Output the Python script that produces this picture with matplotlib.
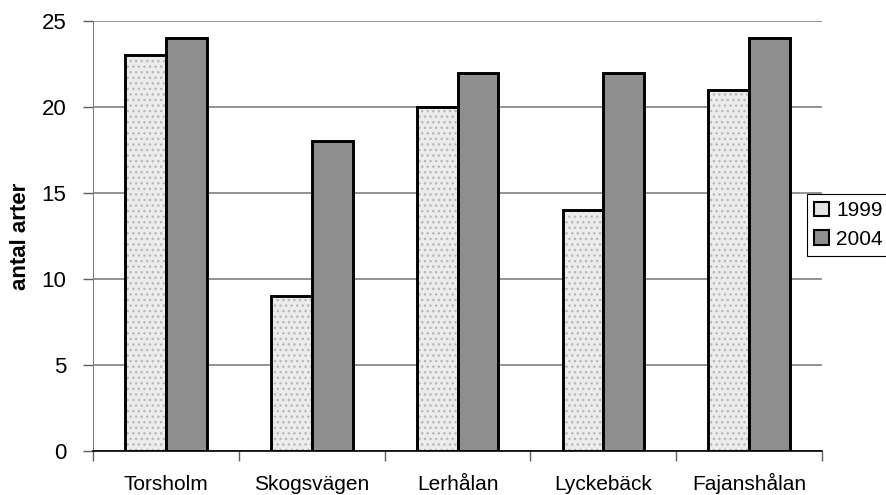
import numpy as np
import matplotlib.pyplot as plt

plt.rcParams['font.family'] = ['Liberation Sans', 'DejaVu Sans']

sites = ['Torsholm', 'Skogsvägen', 'Lerhålan', 'Lyckebäck', 'Fajanshålan']
arter_1999 = [23, 9, 20, 14, 21]
arter_2004 = [24, 18, 22, 22, 24]

fig = plt.figure(figsize=(8.87, 4.95), dpi=100)
ax = fig.add_axes([0.1048, 0.0889, 0.822, 0.8687])

x = np.arange(len(sites))
w = 0.28
# light dotted fill for 1999: base colour + grey dots, then black outline
ax.bar(x - w/2, arter_1999, w, color='#ececec', edgecolor='#b8b8b8', linewidth=0,
       hatch='...', zorder=3)
ax.bar(x - w/2, arter_1999, w, color='none', edgecolor='black', linewidth=2.1,
       zorder=4)
ax.bar(x + w/2, arter_2004, w, color='#8e8e8e', edgecolor='black', linewidth=2.1,
       zorder=4)

# legend proxies
h1 = plt.Rectangle((0, 0), 1, 1, facecolor='#e4e4e4', edgecolor='black', linewidth=1.5)
h2 = plt.Rectangle((0, 0), 1, 1, facecolor='#8e8e8e', edgecolor='black', linewidth=1.5)

ax.set_xlim(-0.5, len(sites) - 0.5)
ax.set_ylim(0, 25)
ax.set_yticks(range(0, 26, 5))
ax.yaxis.grid(True, color='#808080', linewidth=1.2, zorder=0)
ax.set_axisbelow(True)

ax.set_xticks(x)
ax.set_xticklabels(sites, fontsize=15, va='baseline')
ax.set_xticks(np.arange(-0.5, len(sites), 1), minor=True)
ax.tick_params(axis='x', which='major', length=0, pad=28)
ax.tick_params(axis='x', which='minor', length=7, width=1, color='#606060')
ax.tick_params(axis='y', length=7, width=1, color='#606060', labelsize=16, pad=12)

for s in ['top', 'right']:
    ax.spines[s].set_visible(False)
ax.spines['left'].set_color('#808080')
ax.spines['bottom'].set_color('black')
ax.spines['bottom'].set_linewidth(1.2)

ax.set_ylabel('antal arter', fontsize=16, fontweight='bold', labelpad=8)

leg = ax.legend([h1, h2], ['1999', '2004'], loc='upper left',
                bbox_to_anchor=(0.979, 0.598), fontsize=15,
                frameon=True, fancybox=False, edgecolor='black', framealpha=1,
                handlelength=0.7, handleheight=0.7, handletextpad=0.35,
                borderpad=0.35, labelspacing=0.45, borderaxespad=0)
leg.get_frame().set_linewidth(0.8)

fig.savefig('out.png', dpi=100)
